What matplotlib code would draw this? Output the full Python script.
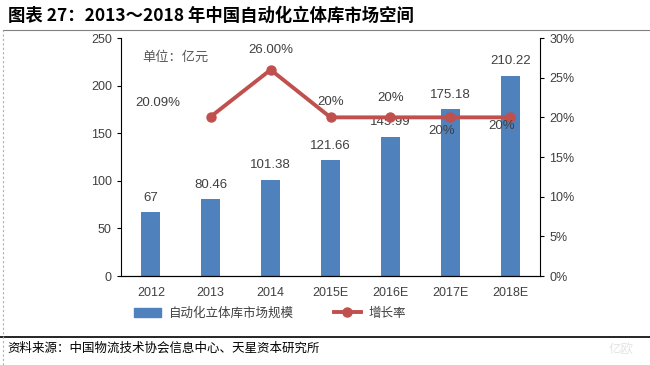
import numpy as np
import matplotlib
matplotlib.use("Agg")
import matplotlib.pyplot as plt
from matplotlib.lines import Line2D
from matplotlib.patches import Patch

plt.rcParams['font.family'] = ['Liberation Sans', 'Noto Sans CJK SC', 'DejaVu Sans']

# --- data ---
years = ['2012', '2013', '2014', '2015E', '2016E', '2017E', '2018E']
market = [67, 80.46, 101.38, 121.66, 145.99, 175.18, 210.22]
market_labels = ['67', '80.46', '101.38', '121.66', '145.99', '175.18', '210.22']
growth = [np.nan, 20.09, 26.00, 20, 20, 20, 20]
growth_labels = ['20.09%', '', '26.00%', '20%', '20%', '20%', '20%']
# label offsets (x in category units, y in % units) to follow the original placement
growth_lab_pos = [(0.12, 21.1), None, (0, 27.7), (0, 21.2), (0, 21.7), (-0.15, 17.5), (-0.15, 18.1)]

bar_c = '#4F81BD'
line_c = '#C0504D'
txt_c = '#404040'

fig = plt.figure(figsize=(6.5, 3.65), dpi=100)
ax = fig.add_axes([0.186, 0.2438, 0.645, 0.652])
x = np.arange(len(years))

ax.bar(x, market, width=0.32, color=bar_c, zorder=2)
ax.set_xlim(-0.5, len(years) - 0.5)
ax.set_ylim(0, 250)
ax.set_yticks(range(0, 251, 50))
ax.set_xticks(x)
ax.set_xticklabels(years)
for i, v in enumerate(market):
    ax.text(i, v + 9, market_labels[i], ha='center', va='bottom', fontsize=9.5, color=txt_c, zorder=1)

ax2 = ax.twinx()
ax2.plot(x, growth, color=line_c, lw=2.8, marker='o', ms=6.5, zorder=3)
ax2.set_ylim(0, 30)
ax2.set_yticks(range(0, 31, 5))
ax2.set_yticklabels([f'{t}%' for t in range(0, 31, 5)])
for i, lab in enumerate(growth_labels):
    if lab:
        dx, yy = growth_lab_pos[i]
        ax2.text(i + dx, yy, lab, ha='center', va='bottom', fontsize=9.5, color=txt_c)

for a in (ax, ax2):
    a.spines['top'].set_visible(False)
    a.spines['left'].set_color('black')
    a.spines['right'].set_color('black')
    a.spines['bottom'].set_color('black')
    a.tick_params(axis='y', labelsize=9, colors=txt_c, length=3, width=0.8, direction='out')
    a.tick_params(axis='y', color='black')
ax.tick_params(axis='x', length=0, labelsize=9, colors=txt_c, pad=8)
ax2.spines['left'].set_visible(False)
ax.spines['right'].set_visible(False)

ax.text(0.05, 0.92, '单位：亿元', transform=ax.transAxes, fontsize=9.5, color='#595959',
        family=['Noto Sans CJK SC'], style='italic', va='center')

# legend
handles = [Patch(color=bar_c), Line2D([0], [0], color=line_c, lw=2.8, marker='o', ms=6.5)]
fig.legend(handles, ['自动化立体库市场规模', '增长率'], loc='center', bbox_to_anchor=(0.415, 0.142),
           ncol=2, frameon=False, columnspacing=3.2, handlelength=2.2, handletextpad=0.6,
           prop={'family': ['Noto Sans CJK SC'], 'size': 9}, labelcolor=txt_c)

# title, frame lines, source
fig.text(0.012, 0.958, '图表 27：2013～2018 年中国自动化立体库市场空间', fontsize=12.5, fontweight='bold',
         va='center', ha='left', family=['Noto Sans CJK SC', 'DejaVu Sans'])
fig.add_artist(Line2D([0.005, 1.0], [0.918, 0.918], color='#808080', lw=0.8))
fig.add_artist(Line2D([0.0, 1.0], [0.077, 0.077], color='black', lw=1.2))
fig.add_artist(Line2D([0.005, 0.005], [0.0, 0.918], color='#b0b0b0', lw=0.8, ls=(0, (2, 2))))
fig.text(0.012, 0.045, '资料来源：中国物流技术协会信息中心、天星资本研究所', fontsize=9, va='center',
         family=['Noto Sans CJK SC'], color='black')
fig.text(0.955, 0.04, '亿欧', fontsize=9, color='#e4e4e4', va='center', ha='center',
         family=['Noto Sans CJK SC'])

fig.savefig('out.png', dpi=100)
